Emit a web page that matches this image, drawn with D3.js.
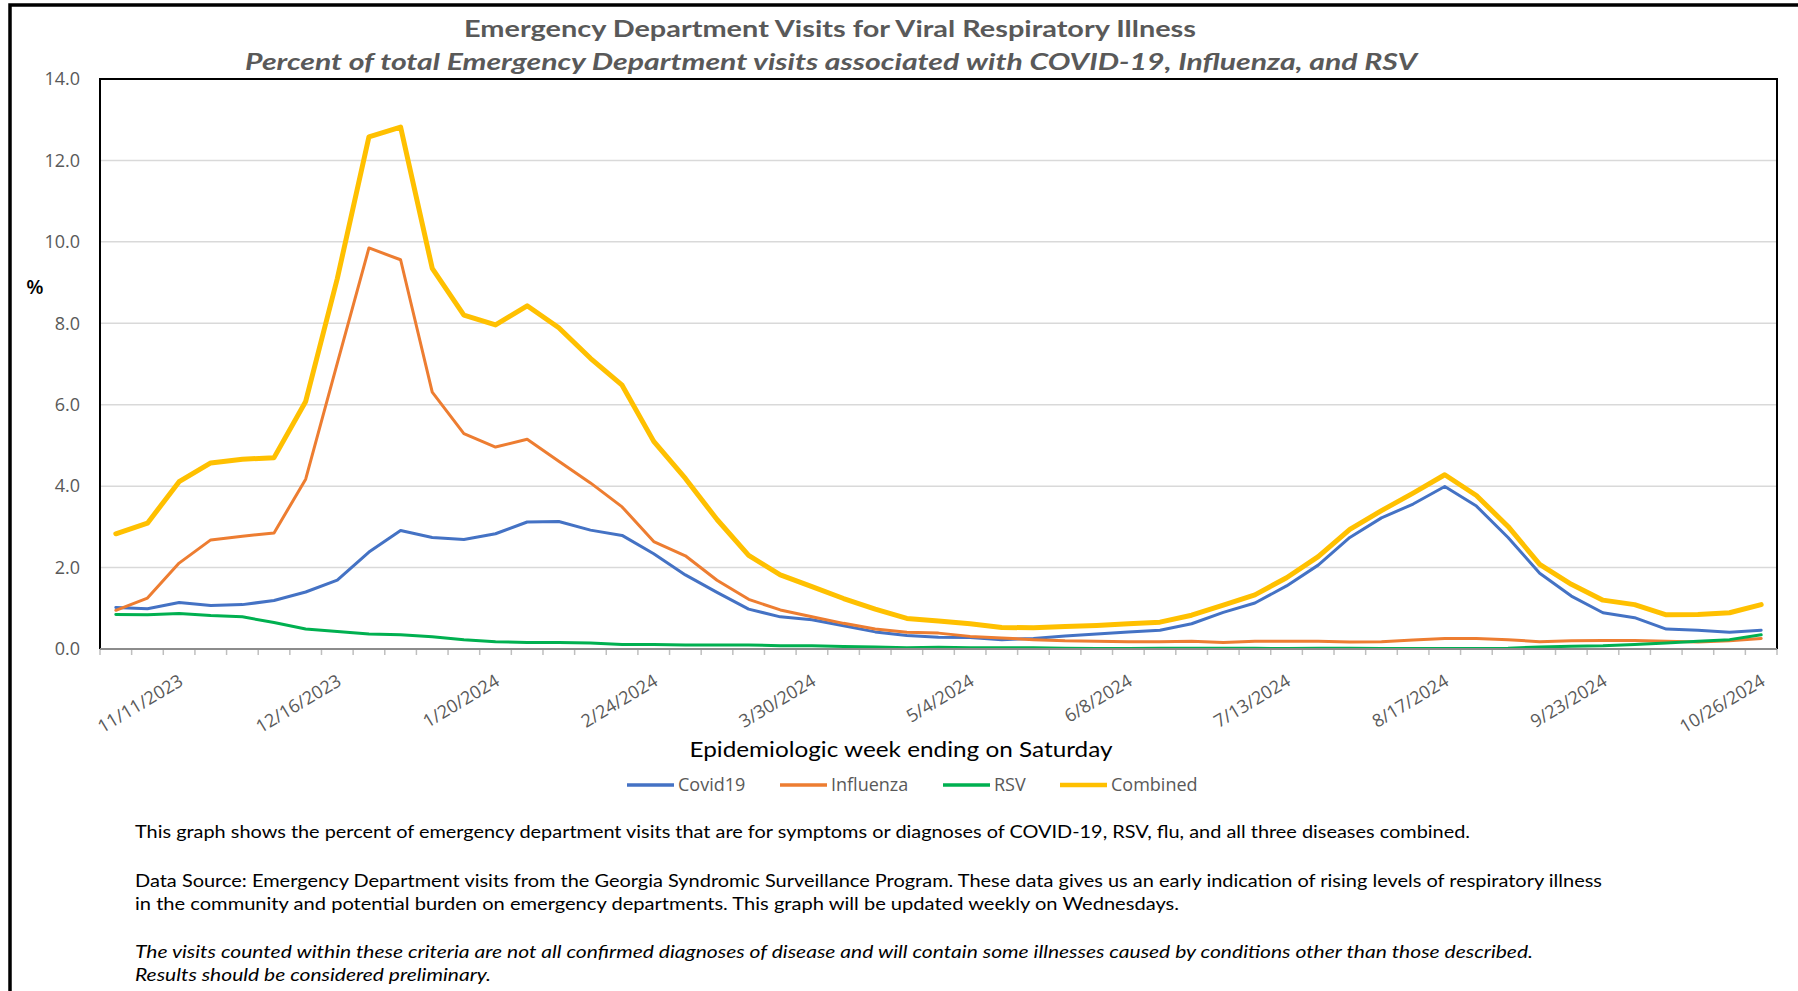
<!DOCTYPE html>
<html>
<head>
<meta charset="utf-8">
<script src="https://cdn.jsdelivr.net/npm/d3@7"></script>
<style>
  html, body { margin: 0; padding: 0; background: #ffffff; overflow: hidden; }
  svg { display: block; }
</style>
</head>
<body>
<svg id="chart" width="1798" height="991"></svg>
<script>
// Epidemiologic weeks (week ending on Saturday)
const weeks = [
  "10/28/2023","11/4/2023","11/11/2023","11/18/2023","11/25/2023","12/2/2023","12/9/2023",
  "12/16/2023","12/23/2023","12/30/2023","1/6/2024","1/13/2024","1/20/2024","1/27/2024",
  "2/3/2024","2/10/2024","2/17/2024","2/24/2024","3/2/2024","3/9/2024","3/16/2024",
  "3/23/2024","3/30/2024","4/6/2024","4/13/2024","4/20/2024","4/27/2024","5/4/2024",
  "5/11/2024","5/18/2024","5/25/2024","6/1/2024","6/8/2024","6/15/2024","6/22/2024",
  "6/29/2024","7/6/2024","7/13/2024","7/20/2024","7/27/2024","8/3/2024","8/10/2024",
  "8/17/2024","8/24/2024","8/31/2024","9/7/2024","9/14/2024","9/23/2024","9/28/2024",
  "10/5/2024","10/12/2024","10/19/2024","10/26/2024"
];

// Week labels printed under the axis
const tickLabels = [
  "11/11/2023","12/16/2023","1/20/2024","2/24/2024","3/30/2024","5/4/2024",
  "6/8/2024","7/13/2024","8/17/2024","9/23/2024","10/26/2024"
];

// Percent of ED visits
const covid19 = [
  1.02,0.99,1.14,1.07,1.09,1.19,1.40,1.69,2.38,2.91,2.74,2.69,2.83,3.12,
  3.13,2.92,2.79,2.34,1.82,1.39,0.98,0.79,0.72,0.57,0.42,0.33,0.29,
  0.28,0.23,0.26,0.32,0.37,0.42,0.46,0.62,0.90,1.13,1.55,2.06,
  2.74,3.22,3.56,3.99,3.51,2.74,1.86,1.30,0.89,0.77,0.49,0.46,0.41,0.46
];
const influenza = [
  0.95,1.25,2.11,2.68,2.77,2.85,4.17,7.02,9.85,9.56,6.31,5.29,4.96,5.15,
  4.61,4.08,3.49,2.64,2.29,1.69,1.22,0.96,0.79,0.63,0.49,0.41,0.39,
  0.31,0.27,0.23,0.20,0.19,0.18,0.18,0.19,0.16,0.19,0.19,0.19,
  0.17,0.18,0.22,0.26,0.26,0.23,0.18,0.20,0.21,0.21,0.19,0.17,0.20,0.26
];
const rsv = [
  0.85,0.84,0.87,0.82,0.79,0.65,0.49,0.43,0.37,0.35,0.30,0.23,0.18,0.16,
  0.16,0.15,0.11,0.11,0.10,0.10,0.10,0.08,0.08,0.06,0.05,0.03,0.04,
  0.03,0.03,0.03,0.02,0.01,0.01,0.02,0.02,0.02,0.02,0.01,0.02,
  0.02,0.01,0.01,0.01,0.01,0.02,0.05,0.07,0.08,0.11,0.15,0.19,0.23,0.35
];
const combined = [
  2.83,3.09,4.11,4.57,4.66,4.70,6.08,9.10,12.58,12.82,9.35,8.20,7.96,8.43,
  7.89,7.14,6.48,5.10,4.19,3.18,2.30,1.82,1.53,1.24,0.98,0.75,0.69,
  0.62,0.53,0.52,0.55,0.58,0.62,0.66,0.83,1.08,1.33,1.75,2.27,
  2.94,3.40,3.83,4.28,3.77,3.01,2.08,1.59,1.20,1.09,0.84,0.85,0.89,1.09
];

const yTicks = [0, 2, 4, 6, 8, 10, 12, 14];

const seriesNames = ["Covid19", "Influenza", "RSV", "Combined"];
const seriesColors = ["#4472C4", "#ED7D31", "#00B050", "#FFC000"];
const seriesWidths = [3, 3, 3, 5];

const series = seriesNames.map((name, i) => ({
  name,
  color: seriesColors[i],
  width: seriesWidths[i],
  values: [covid19, influenza, rsv, combined][i]
}));

const svg = d3.select("#chart");
const plot = { left: 100, right: 1777, top: 79, bottom: 649 };

const x = d3.scaleBand().domain(weeks).range([plot.left, plot.right]).padding(0);
const y = d3.scaleLinear().domain([0, 14]).range([plot.bottom, plot.top]);

// squeeze a text run to a given width
function fit(sel, w) {
  sel.attr("textLength", w).attr("lengthAdjust", "spacingAndGlyphs");
}

// outer frame
svg.append("rect")
  .attr("x", 10).attr("y", 5).attr("width", 1800).attr("height", 1000)
  .attr("fill", "none").attr("stroke", "#000").attr("stroke-width", 3.5);

// titles
svg.append("text")
  .attr("x", 830).attr("y", 37)
  .attr("text-anchor", "middle")
  .style("font-family", "Lato, 'Open Sans', sans-serif")
  .style("font-weight", "700").style("font-size", "23px")
  .attr("fill", "#595959")
  .text("Emergency Department Visits for Viral Respiratory Illness")
  .call(fit, 732);

svg.append("text")
  .attr("x", 831).attr("y", 70)
  .attr("text-anchor", "middle")
  .style("font-family", "Lato, 'Open Sans', sans-serif")
  .style("font-weight", "700").style("font-style", "italic").style("font-size", "23px")
  .attr("fill", "#595959")
  .text("Percent of total Emergency Department visits associated with COVID-19, Influenza, and RSV")
  .call(fit, 1172);

// horizontal gridlines
svg.append("g")
  .selectAll("line")
  .data(yTicks.filter(d => d > 0 && d < 14))
  .join("line")
  .attr("x1", plot.left).attr("x2", plot.right)
  .attr("y1", d => y(d)).attr("y2", d => y(d))
  .attr("stroke", "#D9D9D9").attr("stroke-width", 1.5);

// y axis labels
const yAxis = d3.axisLeft(y).tickValues(yTicks).tickSize(0).tickPadding(20)
  .tickFormat(d3.format(".1f"));
svg.append("g")
  .attr("transform", `translate(${plot.left},0)`)
  .call(yAxis)
  .call(g => g.select(".domain").remove())
  .call(g => g.selectAll("text")
    .style("font-family", "'Open Sans', sans-serif")
    .style("font-size", "18px")
    .attr("fill", "#595959"));

svg.append("text")
  .attr("x", 35).attr("y", 287).attr("dy", "0.35em")
  .attr("text-anchor", "middle")
  .style("font-family", "'Open Sans', sans-serif")
  .style("font-size", "20px").style("font-weight", "600")
  .attr("fill", "#000")
  .text("%");

// tick marks between weeks
svg.append("g")
  .selectAll("line")
  .data(weeks.concat([null]))
  .join("line")
  .attr("x1", d => d === null ? plot.right : x(d))
  .attr("x2", d => d === null ? plot.right : x(d))
  .attr("y1", plot.bottom).attr("y2", plot.bottom + 6)
  .attr("stroke", "#BFBFBF").attr("stroke-width", 1.5);

// week labels
const xAxis = d3.axisBottom(x).tickValues(tickLabels).tickSize(0).tickPadding(0);
svg.append("g")
  .attr("transform", `translate(0,${plot.bottom})`)
  .call(xAxis)
  .call(g => g.select(".domain").remove())
  .call(g => g.selectAll(".tick text")
    .attr("y", 0).attr("dy", "0.35em")
    .attr("text-anchor", "end")
    .attr("transform", "translate(2,30) rotate(-31)")
    .style("font-family", "'Open Sans', sans-serif")
    .style("font-size", "18px")
    .attr("fill", "#595959"));

// series lines
const line = d3.line()
  .x((d, i) => x(weeks[i]) + x.bandwidth() / 2)
  .y(d => y(d));

svg.append("g")
  .selectAll("path")
  .data(series)
  .join("path")
  .attr("d", d => line(d.values))
  .attr("fill", "none")
  .attr("stroke", d => d.color)
  .attr("stroke-width", d => d.width)
  .attr("stroke-linejoin", "round")
  .attr("stroke-linecap", "round");

// plot frame
svg.append("path")
  .attr("d", `M${plot.left},${plot.bottom}V${plot.top}H${plot.right}V${plot.bottom}`)
  .attr("fill", "none").attr("stroke", "#000").attr("stroke-width", 2);
svg.append("line")
  .attr("x1", plot.left).attr("x2", plot.right)
  .attr("y1", plot.bottom).attr("y2", plot.bottom)
  .attr("stroke", "#8C8C8C").attr("stroke-width", 2);

// axis title
svg.append("text")
  .attr("x", 901).attr("y", 757)
  .attr("text-anchor", "middle")
  .style("font-family", "Lato, 'Open Sans', sans-serif")
  .style("font-size", "21px")
  .attr("fill", "#000")
  .text("Epidemiologic week ending on Saturday")
  .call(fit, 423);

// legend
const legendX = [627, 780, 943, 1060];
const legend = svg.append("g");
series.forEach((s, i) => {
  legend.append("line")
    .attr("x1", legendX[i]).attr("x2", legendX[i] + 47)
    .attr("y1", 785).attr("y2", 785)
    .attr("stroke", s.color).attr("stroke-width", s.width === 5 ? 4.5 : 3.5);
  legend.append("text")
    .attr("x", legendX[i] + 51).attr("y", 785).attr("dy", "0.35em")
    .style("font-family", "'Open Sans', sans-serif")
    .style("font-size", "18px")
    .attr("fill", "#595959")
    .text(s.name);
});

// notes
const notes = [
  { text: "This graph shows the percent of emergency department visits that are for symptoms or diagnoses of COVID-19, RSV, flu, and all three diseases combined.", y: 838, w: 1335, italic: false },
  { text: "Data Source: Emergency Department visits from the Georgia Syndromic Surveillance Program. These data gives us an early indication of rising levels of respiratory illness", y: 887, w: 1467, italic: false },
  { text: "in the community and potential burden on emergency departments. This graph will be updated weekly on Wednesdays.", y: 910, w: 1044, italic: false },
  { text: "The visits counted within these criteria are not all confirmed diagnoses of disease and will contain some illnesses caused by conditions other than those described.", y: 958, w: 1398, italic: true },
  { text: "Results should be considered preliminary.", y: 981, w: 356, italic: true }
];
svg.append("g")
  .selectAll("text")
  .data(notes)
  .join("text")
  .attr("x", 135).attr("y", d => d.y)
  .style("font-family", "Lato, 'Open Sans', sans-serif")
  .style("font-size", "17px")
  .style("font-style", d => d.italic ? "italic" : "normal")
  .attr("fill", "#000")
  .text(d => d.text)
  .each(function (d) { d3.select(this).call(fit, d.w); });
</script>
</body>
</html>
